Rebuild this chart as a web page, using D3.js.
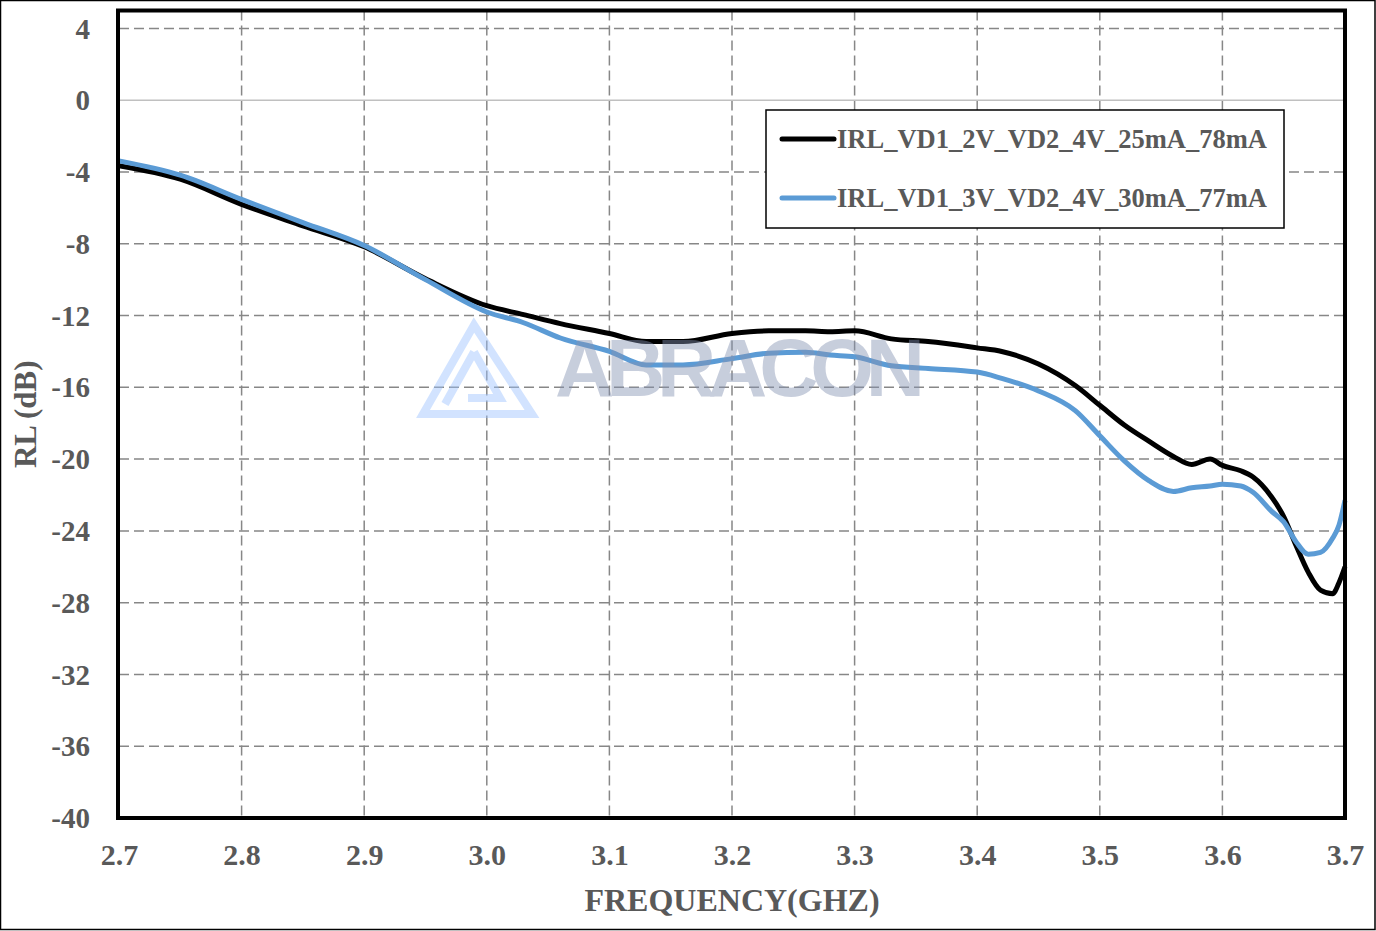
<!DOCTYPE html>
<html>
<head>
<meta charset="utf-8">
<script src="https://cdn.jsdelivr.net/npm/d3@7"></script>
<style>
  html, body { margin: 0; padding: 0; background: #fff; }
  svg text { font-family: "Liberation Serif", "Times New Roman", serif; font-weight: bold; fill: #595959; }
</style>
</head>
<body>
<div id="chart"></div>
<script>
// frequency points (GHz)
var FREQ = [2.70, 2.75, 2.80, 2.85, 2.90, 2.95, 3.00, 3.03, 3.06, 3.10, 3.13, 3.16, 3.20, 3.23,
            3.26, 3.28, 3.30, 3.33, 3.36, 3.40, 3.42, 3.45, 3.48, 3.50, 3.52, 3.54, 3.56, 3.575,
            3.59, 3.60, 3.615, 3.625, 3.64, 3.65, 3.66, 3.67, 3.68, 3.69, 3.695, 3.70];
// return loss (dB)
var RL_2V = [-3.65, -4.4, -5.8, -7.0, -8.17, -9.95, -11.45, -11.95, -12.45, -13.0, -13.45, -13.45, -13.0, -12.85,
             -12.85, -12.9, -12.85, -13.3, -13.45, -13.8, -14.0, -14.7, -15.9, -17.0, -18.1, -19.0, -19.85, -20.3,
             -20.0, -20.35, -20.65, -21.0, -22.1, -23.2, -24.8, -26.3, -27.3, -27.5, -26.9, -26.0];
var RL_3V = [-3.38, -4.18, -5.53, -6.82, -8.1, -10.0, -11.8, -12.4, -13.25, -14.0, -14.75, -14.75, -14.4, -14.1,
             -14.05, -14.2, -14.3, -14.8, -14.95, -15.15, -15.5, -16.2, -17.3, -18.7, -20.1, -21.2, -21.8, -21.6,
             -21.5, -21.4, -21.5, -21.85, -22.9, -23.5, -24.6, -25.3, -25.2, -24.4, -23.7, -22.3];
var SERIES_NAMES = ["IRL_VD1_2V_VD2_4V_25mA_78mA", "IRL_VD1_3V_VD2_4V_30mA_77mA"];
var SERIES_COLORS = ["#000000", "#5b9bd5"];
var X_TICKS = [2.7, 2.8, 2.9, 3.0, 3.1, 3.2, 3.3, 3.4, 3.5, 3.6, 3.7];
var Y_TICKS = [4, 0, -4, -8, -12, -16, -20, -24, -28, -32, -36, -40];

var W = 1376, H = 931;
var margin = { top: 10.5, right: 31, bottom: 113, left: 119 };
var width = W - margin.left - margin.right,
    height = H - margin.top - margin.bottom;

var svg = d3.select("#chart").append("svg")
            .attr("width", W)
            .attr("height", H);

// outer picture border
svg.append("rect")
   .attr("x", 0.5).attr("y", 0.5)
   .attr("width", W - 1.5).attr("height", H - 2)
   .attr("fill", "none")
   .attr("stroke", "#000")
   .attr("stroke-width", 1.5);

var g = svg.append("g")
           .attr("transform", "translate(" + margin.left + "," + margin.top + ")");

// SCALES
var x = d3.scaleLinear().domain([2.7, 3.7]).range([0, width]);
var y = d3.scaleLinear().domain([-40, 5]).range([height, 0]);

// grid lines
g.selectAll(".hgrid")
 .data(Y_TICKS.filter(function(d) { return d !== 0 && d !== -40; }))
 .enter().append("line")
 .attr("class", "hgrid")
 .attr("x1", 0).attr("x2", width)
 .attr("y1", d => y(d)).attr("y2", d => y(d))
 .attr("stroke", "#878787")
 .attr("stroke-width", 1.5)
 .attr("stroke-dasharray", "10,5");

g.selectAll(".vgrid")
 .data(X_TICKS.slice(1, -1))
 .enter().append("line")
 .attr("class", "vgrid")
 .attr("x1", d => x(d)).attr("x2", d => x(d))
 .attr("y1", 0).attr("y2", height)
 .attr("stroke", "#878787")
 .attr("stroke-width", 1.5)
 .attr("stroke-dasharray", "10,5");

// zero line
g.append("line")
 .attr("x1", 0).attr("x2", width)
 .attr("y1", y(0)).attr("y2", y(0))
 .attr("stroke", "#c0c0c0")
 .attr("stroke-width", 1.5);

// axes (labels only), plain hyphen for negatives
var yAxis = d3.axisLeft(y).tickValues(Y_TICKS).tickSize(0).tickPadding(29).tickFormat(d => String(d));
var xAxis = d3.axisBottom(x).tickValues(X_TICKS).tickSize(0).tickFormat(d3.format(".1f"));

var gY = g.append("g").attr("class", "y axis").call(yAxis);
gY.select(".domain").remove();
gY.selectAll("text").style("font-size", "29px").attr("dy", "0.33em");

var gX = g.append("g").attr("class", "x axis")
          .attr("transform", "translate(0," + height + ")")
          .call(xAxis);
gX.select(".domain").remove();
gX.selectAll("text").style("font-size", "30px").attr("y", 47).attr("dy", 0);

// axis titles
svg.append("text")
   .attr("text-anchor", "middle")
   .attr("x", margin.left + width / 2)
   .attr("y", 911)
   .style("font-size", "32px")
   .text("FREQUENCY(GHZ)");

svg.append("text")
   .attr("text-anchor", "middle")
   .attr("transform", "translate(36," + (margin.top + height / 2) + ") rotate(-90)")
   .style("font-size", "31px")
   .text("RL (dB)");

// lines
var series = [RL_2V, RL_3V];
var line = d3.line()
             .x(function(d, i) { return x(FREQ[i]); })
             .y(function(d) { return y(d); })
             .curve(d3.curveMonotoneX);

g.selectAll(".series")
 .data(series)
 .enter().append("path")
 .attr("class", "series")
 .attr("d", d => line(d))
 .attr("fill", "none")
 .attr("stroke", (d, i) => SERIES_COLORS[i])
 .attr("stroke-width", 5)
 .attr("stroke-linejoin", "round");

// watermark
var logo = svg.append("g")
              .attr("opacity", 0.45)
              .attr("fill", "none")
              .attr("stroke", "#9cc3ff")
              .attr("stroke-width", 8)
              .attr("stroke-linejoin", "miter");
logo.append("path").attr("d", "M474,325 L423,414 L532,414 Z");
logo.append("path").attr("d", "M474,352 L445,404 M474,352 L500,398 L468,398");
svg.append("text")
   .attr("x", 555)
   .attr("y", 396)
   .attr("textLength", 370)
   .style("font-family", "'Liberation Sans', Arial, sans-serif")
   .style("font-size", "82px")
   .style("fill", "#8593b3")
   .style("opacity", 0.45)
   .text("ABRACON");

// plot frame
g.append("line")
 .attr("x1", 0).attr("x2", 0).attr("y1", 0).attr("y2", height)
 .attr("stroke", "#d0d0d0").attr("stroke-width", 1);
g.append("rect")
 .attr("x", -1).attr("y", 0)
 .attr("width", width + 1).attr("height", height)
 .attr("fill", "none")
 .attr("stroke", "#000")
 .attr("stroke-width", 4);

// legend
var lg = svg.append("g").attr("transform", "translate(766,110)");
lg.append("rect")
  .attr("width", 518).attr("height", 118)
  .attr("fill", "#fff")
  .attr("stroke", "#000")
  .attr("stroke-width", 1.5);
var items = lg.selectAll(".item")
              .data(SERIES_NAMES)
              .enter().append("g")
              .attr("class", "item")
              .attr("transform", (d, i) => "translate(0," + (29 + i * 59) + ")");
items.append("line")
     .attr("x1", 16).attr("x2", 68)
     .attr("stroke", (d, i) => SERIES_COLORS[i])
     .attr("stroke-width", 5)
     .attr("stroke-linecap", "round");
items.append("text")
     .attr("x", 71)
     .attr("dy", "0.35em")
     .style("font-size", "26.5px")
     .text(d => d);
</script>
</body>
</html>
